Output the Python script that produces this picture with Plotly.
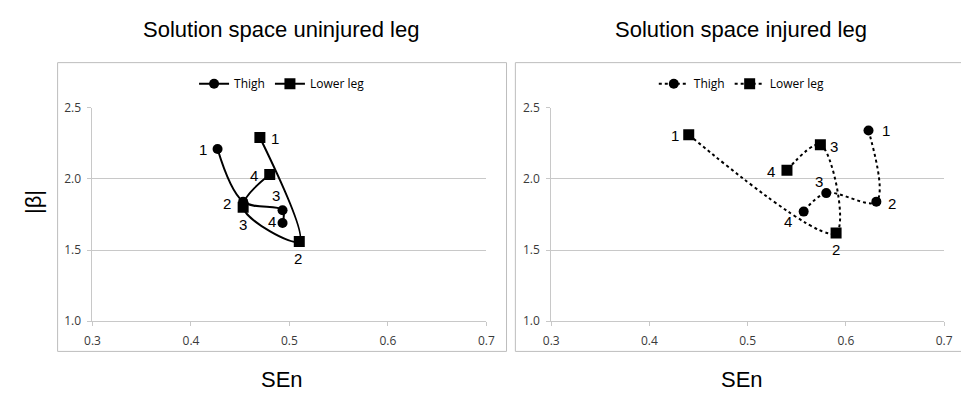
import plotly.graph_objects as go

# ---------------- data ----------------
point_labels = ["1", "2", "3", "4"]

uninj_thigh_x = [0.427, 0.453, 0.493, 0.493]
uninj_thigh_y = [2.21, 1.84, 1.78, 1.69]
uninj_lower_x = [0.470, 0.510, 0.453, 0.480]
uninj_lower_y = [2.29, 1.56, 1.80, 2.03]

inj_thigh_x = [0.623, 0.631, 0.580, 0.557]
inj_thigh_y = [2.34, 1.84, 1.90, 1.77]
inj_lower_x = [0.440, 0.590, 0.574, 0.540]
inj_lower_y = [2.31, 1.62, 2.24, 2.06]

x_ticks = [0.3, 0.4, 0.5, 0.6, 0.7]
y_ticks = [1.0, 1.5, 2.0, 2.5]
series_names = ["Thigh", "Lower leg"]
titles = ["Solution space uninjured leg", "Solution space injured leg"]
x_title = "SEn"
y_title = "|β|"

# ---------------- layout helpers ----------------
W, H = 961, 403
def px_x(p):
    return p / W
def px_y(p):
    return (H - p) / H

LABEL_FONT = dict(family="Liberation Sans, Arial, sans-serif", size=15, color="black")
TITLE_FONT = dict(family="Liberation Sans, Arial, sans-serif", size=22, color="black")
TICK_FONT = dict(family="Open Sans, sans-serif", size=12, color="#3a3a3a")
GRID = "#c8c8c8"

fig = go.Figure()

def add_series(x, y, name, symbol, size, dash, xa, ya, legend, offsets):
    fig.add_trace(go.Scatter(
        x=x, y=y, name=name, mode="lines+markers",
        line=dict(color="black", width=2, dash=dash, shape="spline", smoothing=1),
        marker=dict(symbol=symbol, size=size, color="black"),
        xaxis=xa, yaxis=ya, legend=legend, hoverinfo="skip",
    ))
    # point numbers, placed beside each point (pixel offsets)
    for xi, yi, lab, (dx, dy) in zip(x, y, point_labels, offsets):
        fig.add_annotation(x=xi, y=yi, xref=xa, yref=ya, text=lab, showarrow=False,
                           xanchor="center", yanchor="middle", xshift=dx, yshift=-dy,
                           font=LABEL_FONT)

add_series(uninj_thigh_x, uninj_thigh_y, series_names[0], "circle", 10, "solid", "x", "y", "legend",
           [(-15, 1), (-16, 2), (-7, -15), (-11, -1)])
add_series(uninj_lower_x, uninj_lower_y, series_names[1], "square", 11, "solid", "x", "y", "legend",
           [(15, 1), (-1, 17), (0, 17), (-16, 1)])
add_series(inj_thigh_x, inj_thigh_y, series_names[0], "circle", 10, "dot", "x2", "y2", "legend2",
           [(17, 0), (16, 2), (-7, -12), (-16, 10)])
add_series(inj_lower_x, inj_lower_y, series_names[1], "square", 11, "dot", "x2", "y2", "legend2",
           [(-14, 1), (0, 17), (14, 2), (-16, 1)])

xaxis_common = dict(
    range=[x_ticks[0], x_ticks[-1]], tickvals=x_ticks, tickformat=".1f",
    showgrid=False, zeroline=False, showline=True, linecolor=GRID, linewidth=1,
    ticks="outside", ticklen=4, tickcolor=GRID, tickfont=TICK_FONT,
    ticklabelstandoff=4, fixedrange=True,
)
yaxis_common = dict(
    range=[y_ticks[0], y_ticks[-1]], tickvals=y_ticks, tickformat=".1f",
    showgrid=True, gridcolor=GRID, gridwidth=1, zeroline=False,
    showline=True, linecolor=GRID, linewidth=1,
    ticks="outside", ticklen=4, tickcolor=GRID, tickfont=TICK_FONT,
    ticklabelstandoff=4, fixedrange=True,
)

y_dom = [px_y(326), px_y(103)]
fig.update_layout(
    width=W, height=H, autosize=False,
    margin=dict(l=0, r=0, t=0, b=0),
    paper_bgcolor="white", plot_bgcolor="white",
    xaxis=dict(domain=[px_x(86), px_x(487)], anchor="y", **xaxis_common),
    yaxis=dict(domain=y_dom, anchor="x", **yaxis_common),
    xaxis2=dict(domain=[px_x(553), px_x(953)], anchor="y2", **xaxis_common),
    yaxis2=dict(domain=y_dom, anchor="x2", **yaxis_common),
    legend=dict(orientation="h", x=px_x(279), y=px_y(78), xanchor="center", yanchor="middle",
                font=dict(family="Open Sans, sans-serif", size=12, color="black"),
                bgcolor="rgba(0,0,0,0)", itemwidth=30, tracegroupgap=0),
    legend2=dict(orientation="h", x=px_x(747), y=px_y(78), xanchor="center", yanchor="middle",
                 font=dict(family="Open Sans, sans-serif", size=12, color="black"),
                 bgcolor="rgba(0,0,0,0)", itemwidth=30, tracegroupgap=0),
    showlegend=True,
)

# chart-area frames
fig.add_shape(type="rect", xref="paper", yref="paper",
              x0=px_x(50.5), x1=px_x(507.5), y0=px_y(357.5), y1=px_y(56),
              line=dict(color="#bdbdbd", width=1), layer="below")
fig.add_shape(type="rect", xref="paper", yref="paper",
              x0=px_x(516.5), x1=px_x(990), y0=px_y(357.5), y1=px_y(56),
              line=dict(color="#bdbdbd", width=1), layer="below")

# titles and axis titles
for cx, t in zip([278, 746], titles):
    fig.add_annotation(text=t, x=px_x(cx), y=px_y(21), xref="paper", yref="paper",
                       xanchor="center", yanchor="middle", showarrow=False, font=TITLE_FONT)
    fig.add_annotation(text=x_title, x=px_x(cx + 1), y=px_y(387), xref="paper", yref="paper",
                       xanchor="center", yanchor="middle", showarrow=False, font=TITLE_FONT)
fig.add_annotation(text=y_title, x=px_x(26), y=px_y(202), xref="paper", yref="paper",
                   xanchor="center", yanchor="middle", showarrow=False, textangle=-90,
                   font=TITLE_FONT)

fig.write_html(
    "out.html",
    config={"displayModeBar": False, "staticPlot": True},
    post_script="document.body.style.margin='0';document.body.style.overflow='hidden';",
)
